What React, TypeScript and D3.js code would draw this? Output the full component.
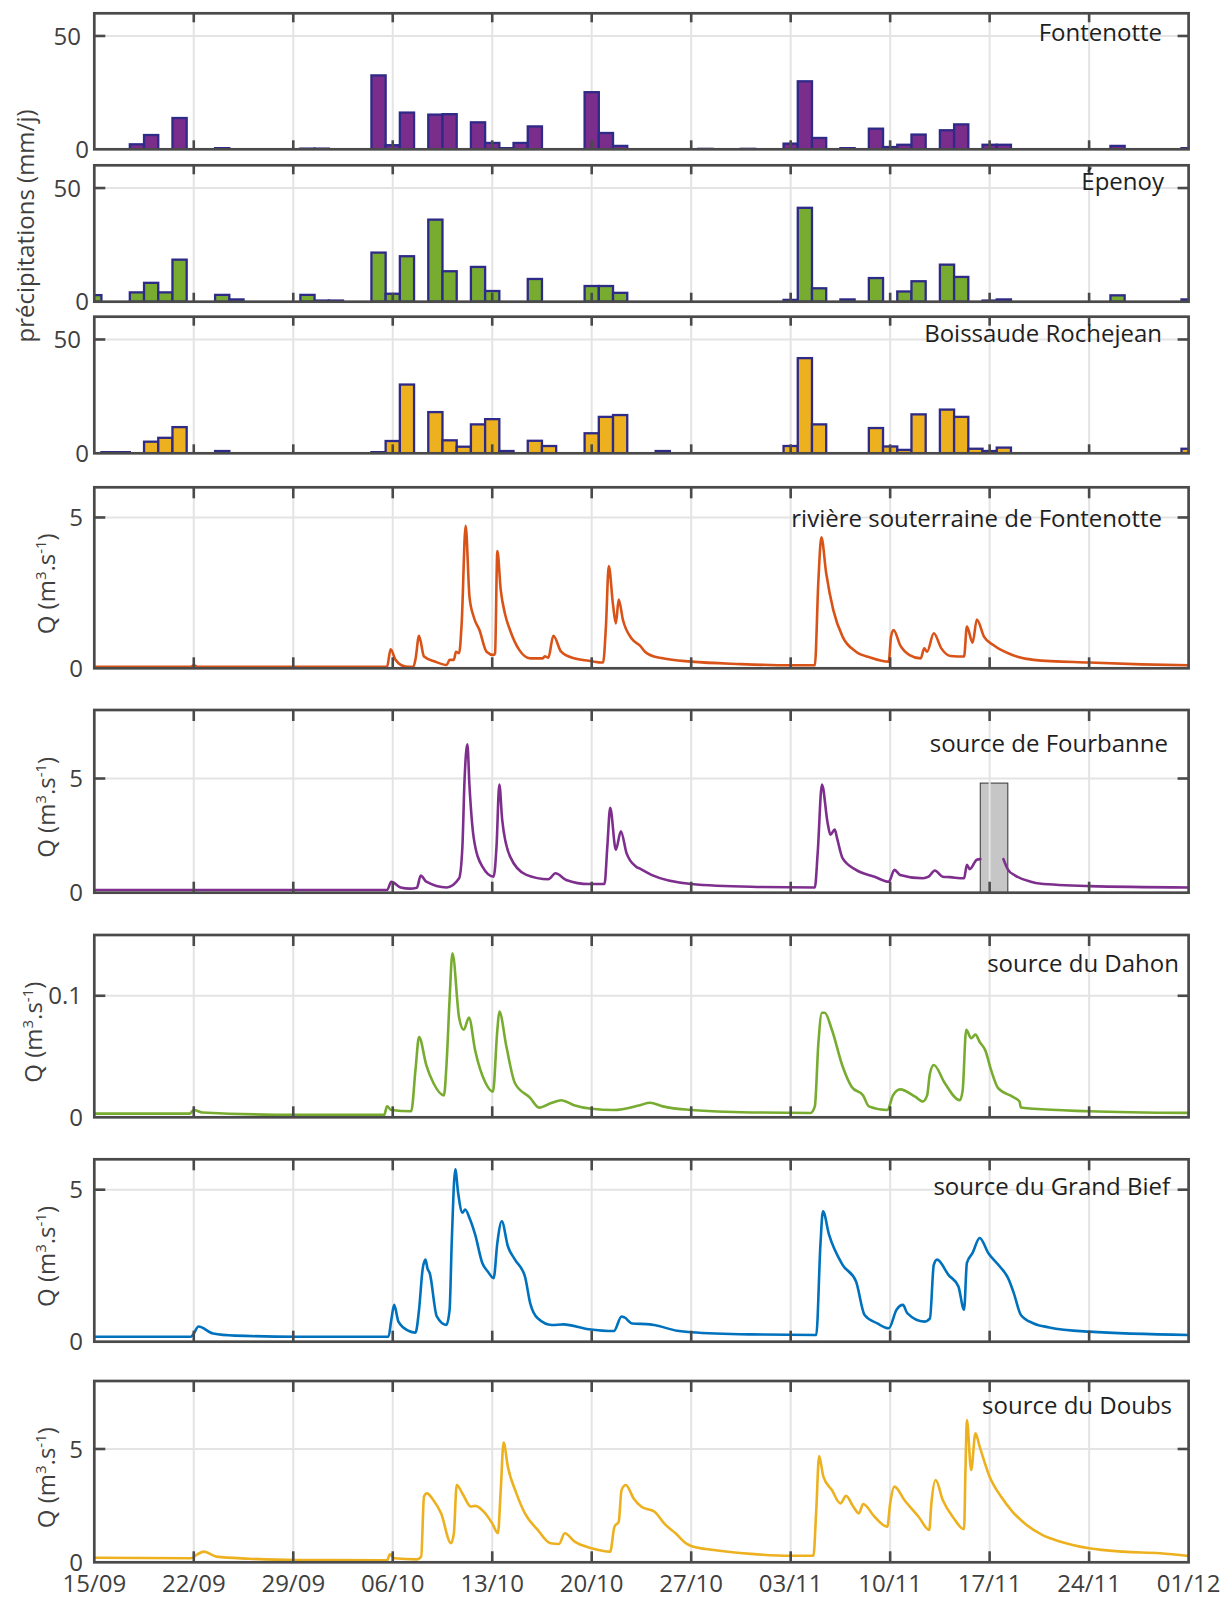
import React from 'react';
import * as d3 from 'd3';

// ---------- data ----------
const tickLabels = ["15/09", "22/09", "29/09", "06/10", "13/10", "20/10", "27/10", "03/11", "10/11", "17/11", "24/11", "01/12"];
const tickDays = [0, 7, 14, 21, 28, 35, 42, 49, 56, 63, 70, 77];

// daily precipitation (mm/j), day 0 = 15/09 ... day 77 = 01/12
const rainFontenotte = [
  0, 0, 0, 2.2, 6.3, 0, 13.8, 0, 0, 0.5, 0, 0, 0, 0, 0, 0.3, 0.3, 0, 0, 0,
  32.6, 1.8, 16.2, 0, 15.3, 15.5, 0, 11.9, 2.8, 0.5, 2.8, 10.1, 0, 0, 0, 25.2, 7.2, 1.5, 0, 0,
  0, 0, 0, 0.2, 0, 0, 0.2, 0, 0, 2.5, 30, 5, 0, 0.5, 0, 9.1, 1, 2, 6.5, 0,
  8.4, 11, 0, 2, 2, 0, 0, 0, 0, 0, 0, 0, 1.5, 0, 0, 0, 0, 0.5,
];
const rainEpenoy = [
  2.9, 0, 0, 4.1, 8.3, 4.1, 18.5, 0, 0, 3, 1, 0, 0, 0, 0, 3, 0.5, 0.5, 0, 0,
  21.6, 3.5, 20, 0, 36.1, 13.4, 0, 15.3, 4.7, 0, 0, 10, 0, 0, 0, 6.9, 6.9, 3.9, 0, 0,
  0, 0, 0, 0, 0, 0, 0, 0, 0, 0.8, 41.3, 5.9, 0, 1, 0, 10.4, 0, 4.5, 9, 0,
  16.3, 10.9, 0, 0.5, 1, 0, 0, 0, 0, 0, 0, 0, 2.8, 0, 0, 0, 0, 1,
];
const rainBoissaude = [
  0, 0.5, 0.5, 0, 5.1, 6.8, 11.5, 0, 0, 1, 0, 0, 0, 0, 0, 0, 0, 0, 0, 0,
  0.5, 5.4, 30.2, 0, 18.1, 5.7, 2.9, 12.7, 15, 1, 0, 5.5, 3.2, 0, 0, 8.8, 16, 16.8, 0, 0,
  1, 0, 0, 0, 0, 0, 0, 0, 0, 3.2, 41.8, 12.7, 0, 0, 0, 11.1, 3, 1.5, 17.1, 0,
  19.2, 16, 2, 1, 2.5, 0, 0, 0, 0, 0, 0, 0, 0, 0, 0, 0, 0, 2,
];

// discharge series: [day since 15/09, Q]
const qFontenotte: [number, number][] = [
  [0, 0.05], [6.8, 0.05], [7, 0.1], [7.3, 0.05], [20.6, 0.05], [20.85, 0.63], [21.2, 0.28], [21.9, 0.06],
  [22.45, 0.05], [22.6, 0.3], [22.85, 1.08], [23.2, 0.39], [24, 0.22], [24.8, 0.11], [25, 0.28], [25.3, 0.28],
  [25.45, 0.55], [25.67, 0.5], [25.85, 1.49], [26.13, 4.72], [26.4, 2.37], [26.7, 1.7], [27.1, 1.27],
  [27.6, 0.55], [28.1, 0.44], [28.2, 0.5], [28.36, 3.89], [28.6, 2.59], [28.9, 1.8], [29.25, 1.27],
  [29.9, 0.61], [30.67, 0.33], [31.56, 0.33], [31.7, 0.4], [31.95, 0.35], [32.3, 1.08], [32.85, 0.55],
  [33.75, 0.33], [34.8, 0.25], [35.8, 0.19], [36.0, 1.38], [36.2, 3.39], [36.5, 2.1], [36.7, 1.49],
  [36.9, 2.28], [37.2, 1.6], [37.85, 0.96], [38.4, 0.75], [38.75, 0.55], [39.1, 0.44], [40, 0.33],
  [42, 0.22], [45.5, 0.14], [49, 0.1], [50.7, 0.1], [50.95, 2.9], [51.16, 4.34], [51.5, 3.15], [52, 1.93],
  [52.65, 1.05], [53.6, 0.55], [54.6, 0.36], [55.9, 0.22], [56.06, 1.05], [56.24, 1.27], [56.7, 0.77],
  [57.37, 0.44], [58.15, 0.33], [58.4, 0.66], [58.6, 0.55], [59.07, 1.16], [59.6, 0.66], [60.25, 0.41],
  [61.2, 0.39], [61.4, 1.38], [61.8, 0.85], [62.1, 1.62], [62.6, 1.05], [63.26, 0.77], [64.6, 0.44],
  [66.1, 0.28], [70, 0.19], [73.7, 0.13], [77, 0.1],
];
const qFourbanne: [number, number][] = [
  [0, 0.12], [20.6, 0.12], [20.9, 0.48], [21.56, 0.23], [22.2, 0.18], [22.7, 0.22], [22.97, 0.75],
  [23.36, 0.48], [24.8, 0.23], [25.67, 0.63], [25.9, 2.0], [26.05, 4.9], [26.25, 6.5], [26.4, 4.67],
  [26.7, 2.39], [27.3, 1.15], [28.1, 0.7], [28.3, 2.0], [28.5, 4.74], [28.7, 3.2], [29.25, 1.59],
  [30.4, 0.78], [31.95, 0.59], [32.46, 0.85], [33.2, 0.56], [34.8, 0.38], [35.9, 0.38], [36.1, 2.03],
  [36.3, 3.72], [36.7, 1.88], [37.05, 2.69], [37.45, 1.73], [38.1, 1.15], [38.4, 1.05], [39.2, 0.78],
  [42, 0.38], [46.2, 0.26], [50.7, 0.23], [50.9, 1.73], [51.2, 4.74], [51.6, 3.05], [51.8, 2.54],
  [52.1, 2.76], [52.26, 2.4], [52.65, 1.51], [53.6, 1.0], [54.9, 0.7], [55.9, 0.48], [56.3, 1.0],
  [56.7, 0.78], [58.3, 0.63], [58.7, 0.7], [59.15, 0.97], [59.7, 0.7], [60.2, 0.68], [61.2, 0.63],
  [61.4, 1.22], [61.6, 1.03], [62.1, 1.44], [62.35, 1.47], [63.0, NaN], [63.97, 1.47], [64.3, 1.0],
  [64.8, 0.75], [65.9, 0.48], [66.5, 0.4], [70, 0.29], [77, 0.23],
];
const fourbanneGapStart = 62.34;
const fourbanneGapEnd = 64.28;
const fourbanneGapTop = 4.8;

const qDahon: [number, number][] = [
  [0, 0.003], [6.7, 0.003], [7.0, 0.006], [7.6, 0.004], [14.3, 0.002], [20.4, 0.002], [20.6, 0.009],
  [20.9, 0.006], [22.3, 0.005], [22.6, 0.039], [22.85, 0.066], [23.36, 0.043], [23.87, 0.028],
  [24.6, 0.018], [24.8, 0.047], [25.0, 0.097], [25.2, 0.135], [25.67, 0.082], [26.0, 0.072],
  [26.36, 0.082], [26.8, 0.055], [27.5, 0.029], [28.05, 0.021], [28.36, 0.072], [28.5, 0.087],
  [29, 0.058], [29.6, 0.028], [30.67, 0.016], [31.3, 0.008], [32.2, 0.012], [32.85, 0.014],
  [33.75, 0.01], [35, 0.007], [36.56, 0.006], [38.4, 0.01], [39.1, 0.012], [40, 0.009], [42, 0.006],
  [46.2, 0.004], [50.4, 0.0036], [50.7, 0.009], [50.95, 0.061], [51.2, 0.086], [51.4, 0.086],
  [51.9, 0.072], [52.65, 0.042], [53.3, 0.025], [54.1, 0.018], [54.5, 0.009], [55.8, 0.006],
  [56.2, 0.018], [56.7, 0.023], [57.76, 0.017], [58.3, 0.013], [58.6, 0.018], [58.8, 0.036],
  [59.07, 0.043], [59.85, 0.028], [60.9, 0.014], [61.1, 0.022], [61.35, 0.072], [61.7, 0.065],
  [62.0, 0.068], [62.3, 0.062], [62.7, 0.055], [63.1, 0.039], [63.6, 0.024], [64.6, 0.017],
  [65.1, 0.013], [65.2, 0.008], [66.1, 0.007], [70, 0.005], [77, 0.0036],
];
const qGrandBief: [number, number][] = [
  [0, 0.165], [6.8, 0.165], [7.0, 0.27], [7.33, 0.5], [8.36, 0.27], [9.9, 0.2], [14.3, 0.165],
  [20.7, 0.165], [20.9, 0.72], [21.1, 1.21], [21.4, 0.66], [22.1, 0.36], [22.6, 0.3], [22.85, 1.05],
  [23.1, 2.37], [23.3, 2.7], [23.45, 2.4], [23.6, 2.26], [24.1, 0.83], [24.77, 0.55], [25.0, 1.05],
  [25.15, 3.25], [25.4, 5.67], [25.6, 4.9], [25.9, 4.24], [26.1, 4.35], [26.4, 4.07], [26.8, 3.52],
  [27.3, 2.59], [27.7, 2.3], [28.1, 2.09], [28.36, 3.25], [28.67, 3.96], [29.1, 3.14], [29.6, 2.7],
  [30.3, 2.15], [30.67, 1.27], [31.2, 0.77], [32.2, 0.55], [33, 0.57], [34.8, 0.41], [36.56, 0.35],
  [37.1, 0.83], [37.3, 0.8], [37.85, 0.6], [39.1, 0.57], [39.4, 0.55], [41, 0.36], [42, 0.31],
  [46.2, 0.24], [50.8, 0.22], [51.1, 3.25], [51.27, 4.29], [51.7, 3.52], [52.65, 2.53], [53.6, 1.98],
  [54.2, 0.88], [55.1, 0.6], [55.9, 0.44], [56.45, 1.05], [56.9, 1.21], [57.2, 0.94], [58.4, 0.66],
  [58.8, 0.77], [59.07, 2.53], [59.3, 2.7], [60.1, 2.2], [60.8, 1.82], [61.2, 1.05], [61.4, 2.59],
  [61.8, 2.92], [62.3, 3.41], [62.9, 2.92], [63.7, 2.48], [64.3, 2.09], [64.7, 1.6], [65.2, 0.88],
  [66.1, 0.6], [67.2, 0.47], [70, 0.33], [77, 0.22],
];
const qDoubs: [number, number][] = [
  [0, 0.2], [6.8, 0.18], [7.25, 0.35], [7.7, 0.47], [8.6, 0.25], [10.9, 0.16], [14.2, 0.1], [20.6, 0.09],
  [20.8, 0.35], [21.1, 0.18], [22.7, 0.13], [23.0, 0.25], [23.2, 2.9], [23.4, 3.04], [23.85, 2.75],
  [24.4, 2.16], [25.1, 0.84], [25.3, 1.28], [25.5, 3.41], [25.9, 3.04], [26.5, 2.46], [26.8, 2.49],
  [27.4, 2.24], [28.0, 1.72], [28.4, 1.28], [28.6, 3.2], [28.8, 5.28], [29.1, 4.22], [29.7, 3.04],
  [30.3, 2.16], [31.2, 1.43], [32.1, 0.84], [32.7, 0.81], [33.1, 1.28], [33.8, 0.91], [35, 0.62],
  [36.3, 0.47], [36.6, 1.57], [36.9, 1.79], [37.1, 3.19], [37.4, 3.41], [37.95, 2.82], [38.5, 2.45],
  [39.4, 2.24], [40.2, 1.65], [40.9, 1.28], [41.7, 0.81], [42, 0.72], [43.6, 0.54], [46.2, 0.37],
  [49, 0.29], [50.6, 0.29], [50.8, 2.3], [51.0, 4.69], [51.3, 3.78], [51.9, 3.19], [52.5, 2.6],
  [52.9, 2.93], [53.4, 2.46], [53.8, 2.16], [54.1, 2.57], [54.9, 2.01], [55.8, 1.57], [56.0, 2.6],
  [56.3, 3.34], [57, 2.75], [58, 2.01], [58.75, 1.43], [58.9, 2.6], [59.2, 3.63], [59.7, 2.75],
  [60.4, 2.01], [61.2, 1.46], [61.3, 4.07], [61.4, 6.28], [61.7, 4.07], [62.0, 5.69], [62.3, 5.1],
  [63, 3.78], [63.8, 2.9], [64.6, 2.24], [65.6, 1.65], [66.7, 1.21], [68, 0.91], [70, 0.62],
  [72.4, 0.47], [75, 0.4], [77, 0.28],
];

// ---------- layout ----------
const W = 1223;
const H = 1598;
const X0 = 94.3;
const X1 = 1188.6;
const FONT = "'Open Sans', 'Noto Sans', sans-serif";
const GRID = '#e4e4e4';
const AXIS = '#4a4a4a';
const TEXT = '#404040';
const BAR_STROKE = '#2e2a87';

type BarPanel = {
  kind: 'bar'; top: number; bottom: number; yMax: number; yTicks: number[];
  values: number[]; fill: string; title: string; titleX: number; titleY: number;
};
type LinePanel = {
  kind: 'line'; top: number; bottom: number; yMax: number; yTicks: number[];
  series: [number, number][]; color: string; title: string; titleX: number; titleY: number;
  labelX: number; tickX: number; gap?: boolean;
};

const panels: (BarPanel | LinePanel)[] = [
  { kind: 'bar', top: 13.3, bottom: 149.3, yMax: 60, yTicks: [0, 50], values: rainFontenotte, fill: '#7b2d8c', title: 'Fontenotte', titleX: 1162, titleY: 41 },
  { kind: 'bar', top: 165.3, bottom: 301.7, yMax: 60, yTicks: [0, 50], values: rainEpenoy, fill: '#77ac30', title: 'Épenoy', titleX: 1164, titleY: 190 },
  { kind: 'bar', top: 316.7, bottom: 453.3, yMax: 60, yTicks: [0, 50], values: rainBoissaude, fill: '#edb120', title: 'Boissaude Rochejean', titleX: 1162, titleY: 341.5 },
  { kind: 'line', top: 487.3, bottom: 668.3, yMax: 6, yTicks: [0, 5], series: qFontenotte, color: '#d95319', title: 'rivière souterraine de Fontenotte', titleX: 1162, titleY: 526.5, labelX: 55, tickX: 83 },
  { kind: 'line', top: 710, bottom: 892.7, yMax: 8, yTicks: [0, 5], series: qFourbanne, color: '#7e2f8e', title: 'source de Fourbanne', titleX: 1168, titleY: 751.5, labelX: 55, tickX: 83, gap: true },
  { kind: 'line', top: 935, bottom: 1117.3, yMax: 0.15, yTicks: [0, 0.1], series: qDahon, color: '#77ac30', title: 'source du Dahon', titleX: 1179, titleY: 971.5, labelX: 42, tickX: 82 },
  { kind: 'line', top: 1159.3, bottom: 1341.7, yMax: 6, yTicks: [0, 5], series: qGrandBief, color: '#0072bd', title: 'source du Grand Bief', titleX: 1170, titleY: 1195, labelX: 55, tickX: 83 },
  { kind: 'line', top: 1381, bottom: 1562.3, yMax: 8, yTicks: [0, 5], series: qDoubs, color: '#edb120', title: 'source du Doubs', titleX: 1172, titleY: 1414, labelX: 55, tickX: 83 },
];

const x = d3.scaleLinear().domain([0, 77]).range([X0, X1]);

function Panel({ p, i }: { p: BarPanel | LinePanel; i: number }) {
  const y = d3.scaleLinear().domain([0, p.yMax]).range([p.bottom, p.top]);
  const clipId = `clip-${i}`;
  const xTickLen = p.kind === 'bar' ? 9 : 11;
  const yTickLen = 11;
  const dayW = x(1) - x(0);

  let marks: React.ReactNode = null;
  let under: React.ReactNode = null;
  if (p.kind === 'bar') {
    marks = p.values.map((v, d) =>
      v > 0 ? (
        <rect key={d} x={x(d - 0.5)} y={y(v)} width={dayW} height={y(0) - y(v)}
          fill={p.fill} stroke={BAR_STROKE} strokeWidth={2.3} />
      ) : null,
    );
  } else {
    const line = d3.line<[number, number]>()
      .defined((d) => !Number.isNaN(d[1]))
      .x((d) => x(d[0]))
      .y((d) => y(d[1]))
      .curve(d3.curveMonotoneX);
    marks = (
      <path d={line(p.series) || ''} fill="none" stroke={p.color} strokeWidth={2.6}
        strokeLinejoin="round" strokeLinecap="round" />
    );
    if (p.gap) {
      under = (
        <rect x={x(fourbanneGapStart)} y={y(fourbanneGapTop)}
          width={x(fourbanneGapEnd) - x(fourbanneGapStart)} height={y(0) - y(fourbanneGapTop)}
          fill="#c6c6c6" stroke="#333" strokeWidth={1} />
      );
    }
  }

  const fmt = (t: number) => String(t);
  return (
    <g>
      <defs>
        <clipPath id={clipId}>
          <rect x={X0} y={p.top} width={X1 - X0} height={p.bottom - p.top} />
        </clipPath>
      </defs>
      {under}
      <g stroke={GRID} strokeWidth={2}>
        {tickDays.slice(1, -1).map((d) => (
          <line key={d} x1={x(d)} x2={x(d)} y1={p.top} y2={p.bottom} />
        ))}
        {p.yTicks.filter((t) => t > 0).map((t) => (
          <line key={t} x1={X0} x2={X1} y1={y(t)} y2={y(t)} />
        ))}
      </g>
      <g clipPath={`url(#${clipId})`}>{marks}</g>
      <g stroke={AXIS} strokeWidth={2.6}>
        {tickDays.slice(1, -1).map((d) => (
          <g key={d}>
            <line x1={x(d)} x2={x(d)} y1={p.top} y2={p.top + xTickLen} />
            <line x1={x(d)} x2={x(d)} y1={p.bottom} y2={p.bottom - xTickLen} />
          </g>
        ))}
        {p.yTicks.filter((t) => t > 0).map((t) => (
          <g key={t}>
            <line x1={X0} x2={X0 + yTickLen} y1={y(t)} y2={y(t)} />
            <line x1={X1} x2={X1 - yTickLen} y1={y(t)} y2={y(t)} />
          </g>
        ))}
      </g>
      <rect x={X0} y={p.top} width={X1 - X0} height={p.bottom - p.top} fill="none" stroke={AXIS} strokeWidth={2.7} />
      <g fill={TEXT} fontFamily={FONT} fontSize={24} textAnchor="end">
        {p.yTicks.map((t) => {
          const tx = p.kind === 'bar' ? (t === 0 ? 89 : 81) : (t === 0 ? 83 : p.tickX);
          return (
            <text key={t} x={tx} y={y(t)} dy="0.36em">{fmt(t)}</text>
          );
        })}
      </g>
      <text x={p.titleX} y={p.titleY} textAnchor="end" fontFamily={FONT} fontSize={24} fill="#1f1f1f">
        {p.title}
      </text>
      {p.kind === 'line' ? (
        <text transform={`translate(${p.labelX},${(p.top + p.bottom) / 2 + 6}) rotate(-90)`} textAnchor="middle"
          fontFamily={FONT} fontSize={24} fill={TEXT}>
          Q (m<tspan fontSize={15} dy={-9}>3</tspan>
          <tspan dy={9}>.s</tspan>
          <tspan fontSize={15} dy={-9}>-1</tspan>
          <tspan dy={9}>)</tspan>
        </text>
      ) : null}
    </g>
  );
}

export default function App() {
  return (
    <svg width={W} height={H} viewBox={`0 0 ${W} ${H}`}
      style={{ position: 'absolute', left: 0, top: 0, background: '#fff' }}>
      <rect x={0} y={0} width={W} height={H} fill="#fff" />
      {panels.map((p, i) => <Panel key={i} p={p} i={i} />)}
      <text transform={`translate(34,226) rotate(-90)`} textAnchor="middle" fontFamily={FONT} fontSize={24} fill={TEXT}>
        précipitations (mm/j)
      </text>
      <g fontFamily={FONT} fontSize={24} fill={TEXT} textAnchor="middle">
        {tickDays.map((d, k) => (
          <text key={d} x={x(d)} y={1592}>{tickLabels[k]}</text>
        ))}
      </g>
    </svg>
  );
}
